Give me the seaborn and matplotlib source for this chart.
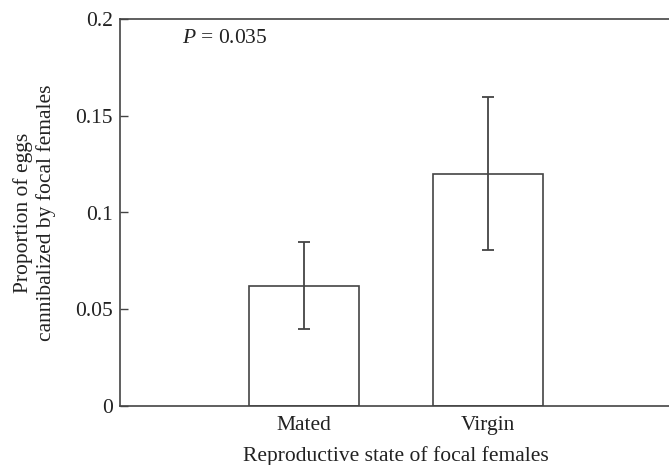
import matplotlib
matplotlib.use("Agg")
import matplotlib.pyplot as plt
import seaborn as sns
import pandas as pd
import numpy as np

categories = ["Mated", "Virgin"]
means = [0.062, 0.120]
err_low = [0.0396, 0.0808]
err_high = [0.0848, 0.1597]
y_ticks = [0, 0.05, 0.1, 0.15, 0.2]
y_tick_labels = ["0", "0.05", "0.1", "0.15", "0.2"]

sns.set_style("white")
plt.rcParams['font.family'] = ['Liberation Serif', 'DejaVu Serif']
plt.rcParams['mathtext.fontset'] = 'custom'
plt.rcParams['mathtext.it'] = 'Liberation Serif:italic'
plt.rcParams['mathtext.rm'] = 'Liberation Serif'

df = pd.DataFrame({"state": categories, "prop": means})
line_col = "#444444"
text_col = "#222222"
fs = 15.5

fig = plt.figure(figsize=(6.69, 4.65), dpi=100)
ax = fig.add_axes([120/669, 1 - 406/465, 552/669, 387/465])

sns.barplot(data=df, x="state", y="prop", order=categories, errorbar=None,
            color="white", edgecolor=line_col, linewidth=1.2, width=0.6, ax=ax)

m = np.array(means)
yerr = np.vstack([m - np.array(err_low), np.array(err_high) - m])
ax.errorbar(np.arange(len(categories)), m, yerr=yerr, fmt="none",
            ecolor=line_col, elinewidth=1.3, capsize=4.2, capthick=1.3)

ax.set_xlim(-1, 2)
ax.set_ylim(0, 0.2)
ax.set_yticks(y_ticks)
ax.set_yticklabels(y_tick_labels)
ax.tick_params(axis="y", direction="in", length=6, width=1.0, color=line_col,
               labelsize=fs, pad=5, left=True, labelcolor=text_col)
ax.tick_params(axis="x", length=0, labelsize=fs, pad=7, labelcolor=text_col)

for side in ["left", "bottom", "top"]:
    ax.spines[side].set_visible(True)
    ax.spines[side].set_color(line_col)
    ax.spines[side].set_linewidth(1.2)
ax.spines["right"].set_visible(False)

ax.set_xlabel("Reproductive state of focal females", fontsize=fs,
              color=text_col, labelpad=8)
ax.set_ylabel("Proportion of eggs\ncannibalized by focal females",
              fontsize=fs, color=text_col, labelpad=14, linespacing=1.2)

ax.text(0.113, 0.950, r"$P$ = 0.035", transform=ax.transAxes, fontsize=fs,
        ha="left", va="center", color=text_col)

fig.savefig("out.png", dpi=100)
